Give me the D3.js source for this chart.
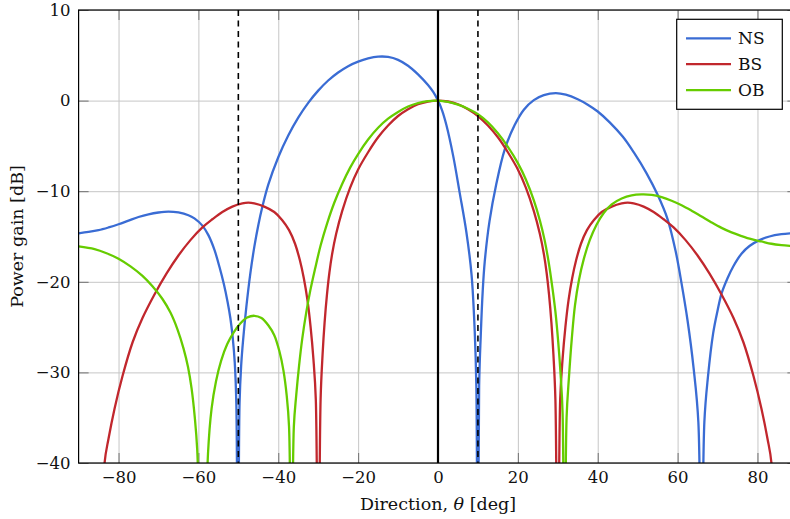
<!DOCTYPE html>
<html><head><meta charset="utf-8">
<script src="https://cdn.jsdelivr.net/npm/d3@7"></script>
<style>body{margin:0;background:#fff}svg{display:block}</style>
</head><body>
<svg id="chart" width="790" height="519"></svg>
<script>
// ---------- data ----------
const seriesNames = ["NS", "BS", "OB"];
const seriesColors = ["#3a6cd4", "#c1272d", "#66cc00"];

const nsTheta = [-90,-87.5,-85,-82.5,-80,-77.5,-75,-72.5,-70,-67.5,-65,-62.5,-61,-59,-57.5,-56,-54.7,-53.6,-52.7,-52,-51.4,-50.9,-50.5,-50.1,-49.7,-49.3,-48.8,-48,-47,-46,-45,-44,-42.5,-40,-37.5,-35,-32.5,-30,-27.5,-25,-22.5,-20,-17.5,-15,-12.5,-10,-7.5,-5,-2.5,-1.2,0,1,2.1,3.8,5.4,7.1,8.4,9.2,9.6,9.95,10.3,10.7,11.2,11.7,12.9,14.6,16.7,19.2,21.5,24,26.5,29.5,32,35,37.5,40,43,46.3,49,52.2,55,57.5,59.5,61,62.5,64,65.2,65.95,66.7,67.6,68.9,70,71,72.5,74,76,78,80.5,83,86,90];
const nsGain  = [-14.65,-14.5,-14.3,-14.0,-13.65,-13.25,-12.85,-12.55,-12.35,-12.25,-12.35,-12.65,-13.0,-13.8,-14.85,-16.45,-18.4,-20.3,-22.2,-24.0,-26.2,-28.9,-33.5,-60,-33.5,-29.3,-26.4,-22.8,-19.1,-16.15,-13.75,-11.75,-9.28,-6.25,-3.85,-1.88,-0.25,1.1,2.22,3.1,3.8,4.3,4.65,4.85,4.82,4.5,3.85,2.9,1.72,0.95,0,-1.05,-2.7,-6.1,-10.1,-14.5,-19.2,-25.5,-31.5,-60,-31.5,-26.0,-21.0,-17.8,-13.3,-9.2,-5.4,-2.7,-1.0,0.05,0.6,0.82,0.65,0.15,-0.45,-1.2,-2.4,-4.0,-5.7,-8.0,-10.4,-13.1,-16.6,-20.2,-24.3,-29.5,-35.5,-60,-35.5,-30.5,-25.7,-23.2,-21.3,-19.6,-18.25,-16.9,-16.05,-15.4,-15.0,-14.75,-14.6];

const bsTheta = [-90,-84.6,-83.5,-82.5,-81,-79,-76.5,-74,-71,-68,-65,-62,-59,-56.5,-54,-51.5,-49,-47.5,-46,-43.5,-41,-39,-37.3,-35.8,-34.6,-33.6,-32.7,-31.9,-31.2,-30.6,-30,-29.4,-28.9,-28.4,-27.8,-27.2,-26.5,-25.5,-24,-22,-20,-17.5,-15,-12.5,-10,-7.5,-5,-2.5,0,2.5,5,7.5,10,12.5,15,17.5,20,22,24,25.5,26.5,27.2,27.8,28.4,28.9,29.4,30,30.6,31.2,31.9,32.7,33.6,34.6,35.8,37.3,39,41,43.5,46,47.5,49,51.5,54,56.5,59,62,65,68,71,74,76.5,79,81,82.5,83.5,84.6,90];
const bsGain  = [-52,-60,-40,-37.3,-34.0,-30.4,-26.7,-24.0,-21.4,-19.1,-17.1,-15.4,-14.0,-13.1,-12.3,-11.7,-11.35,-11.27,-11.35,-11.7,-12.3,-13.2,-14.3,-15.8,-17.6,-19.6,-22,-25,-28.5,-33,-60,-33,-28.0,-24.5,-21.4,-19.0,-16.9,-14.7,-12.2,-9.6,-7.6,-5.7,-4.05,-2.75,-1.7,-0.95,-0.4,-0.1,0,-0.1,-0.4,-0.95,-1.7,-2.75,-4.05,-5.7,-7.6,-9.6,-12.2,-14.7,-16.9,-19.0,-21.4,-24.5,-28.0,-33,-60,-33,-28.5,-25,-22,-19.6,-17.6,-15.8,-14.3,-13.2,-12.3,-11.7,-11.35,-11.27,-11.35,-11.7,-12.3,-13.1,-14.0,-15.4,-17.1,-19.1,-21.4,-24.0,-26.7,-30.4,-34.0,-37.3,-40,-60,-52];

const obTheta = [-90,-86,-83,-80,-77,-74,-71.5,-69,-67,-65.2,-63.7,-62.6,-61.7,-60.9,-60.3,-58.8,-57.6,-56.7,-55.6,-54.3,-52.8,-51.2,-49.5,-47.8,-46,-44.2,-42.5,-41,-39.7,-38.7,-37.9,-37.3,-36.7,-36.1,-35.5,-34.8,-34.0,-33.0,-32.0,-30.8,-29.4,-27.8,-26,-24,-22,-20,-17.5,-15,-12.5,-10,-7.5,-5,-2.5,0,2.5,5,7.5,10,12.5,15,17.5,20,22,24,25.5,26.7,27.7,28.6,29.4,30.1,30.7,31.2,31.65,32.2,32.8,33.5,34.3,35.3,36.5,38,39.7,41.5,43.5,46,48.5,51,53.5,56,58.5,61,63.5,66,68.5,71,73.5,76,78.5,81,83.5,86,88.5,90];
const obGain  = [-16.1,-16.4,-16.85,-17.45,-18.3,-19.35,-20.5,-21.9,-23.4,-25.3,-27.4,-29.4,-31.8,-35,-38.5,-60,-39,-34.0,-31.0,-28.7,-26.9,-25.6,-24.6,-23.95,-23.75,-24.0,-24.8,-25.9,-27.7,-29.8,-32.5,-36,-60,-36,-32.5,-29.3,-26.3,-23.4,-21.0,-18.6,-16.0,-13.6,-11.3,-9.2,-7.4,-5.9,-4.3,-3.0,-2.0,-1.25,-0.65,-0.27,-0.05,0,-0.15,-0.45,-0.9,-1.5,-2.4,-3.6,-5.1,-6.9,-8.7,-11.0,-13.2,-15.4,-17.8,-20.5,-23.3,-26.6,-30.2,-34.5,-60,-35,-30.5,-26.3,-22.6,-19.8,-17.5,-15.4,-13.7,-12.4,-11.45,-10.8,-10.45,-10.35,-10.4,-10.65,-11.05,-11.55,-12.15,-12.8,-13.45,-14.05,-14.55,-14.95,-15.3,-15.55,-15.8,-15.95,-16.05,-16.1];

const xTicks = [-80, -60, -40, -20, 0, 20, 40, 60, 80];
const yTicks = [-40, -30, -20, -10, 0, 10];
const dashedMarks = [-50, 10];
const solidMark = 0;
const xLabel = "Direction, ";
const yLabel = "Power gain [dB]";

// ---------- layout ----------
const L = 78.6, R = 797.4, T = 10, B = 463;
const FONT = "'DejaVu Serif', serif";
const svg = d3.select("#chart");
const x = d3.scaleLinear().domain([-90, 90]).range([L, R]);
const y = d3.scaleLinear().domain([-40, 10]).range([B, T]);

// grid
svg.append("g").attr("transform", `translate(0,${B})`)
  .call(d3.axisBottom(x).tickValues(xTicks).tickSize(-(B - T)).tickFormat(""))
  .call(g => { g.select(".domain").remove(); g.selectAll("line").attr("stroke", "#c6c6c6").attr("stroke-width", 1); });
svg.append("g").attr("transform", `translate(${L},0)`)
  .call(d3.axisLeft(y).tickValues(yTicks).tickSize(-(R - L)).tickFormat(""))
  .call(g => { g.select(".domain").remove(); g.selectAll("line").attr("stroke", "#c6c6c6").attr("stroke-width", 1); });

// inward ticks on all sides
function styleTicks(g) {
  g.select(".domain").remove();
  g.selectAll("line").attr("stroke", "#666").attr("stroke-width", 0.9);
  g.selectAll("text").attr("font-family", FONT).attr("font-size", 16.5).attr("fill", "#111");
}
svg.append("g").attr("transform", `translate(0,${B})`)
  .call(d3.axisBottom(x).tickValues(xTicks).tickSize(-10).tickPadding(8.5)).call(styleTicks);
svg.append("g").attr("transform", `translate(0,${T})`)
  .call(d3.axisTop(x).tickValues(xTicks).tickSize(-10).tickFormat("")).call(styleTicks);
svg.append("g").attr("transform", `translate(${L},0)`)
  .call(d3.axisLeft(y).tickValues(yTicks).tickSize(-10).tickPadding(8)).call(styleTicks);
svg.append("g").attr("transform", `translate(${R},0)`)
  .call(d3.axisRight(y).tickValues(yTicks).tickSize(-10).tickFormat("")).call(styleTicks);

// clip
svg.append("clipPath").attr("id", "plotclip").append("rect")
  .attr("x", L).attr("y", T).attr("width", R - L).attr("height", B - T);

const series = [
  { name: seriesNames[0], color: seriesColors[0], th: nsTheta, g: nsGain },
  { name: seriesNames[1], color: seriesColors[1], th: bsTheta, g: bsGain },
  { name: seriesNames[2], color: seriesColors[2], th: obTheta, g: obGain }
];
const line = d3.line().x(d => x(d[0])).y(d => y(d[1])).curve(d3.curveCatmullRom.alpha(0.5));
const plot = svg.append("g").attr("clip-path", "url(#plotclip)");
series.forEach(s => {
  plot.append("path").datum(s.th.map((t, i) => [t, s.g[i]]))
    .attr("d", line).attr("fill", "none").attr("stroke", s.color)
    .attr("stroke-width", 2.3).attr("stroke-linejoin", "round");
});

// vertical markers
dashedMarks.forEach(v => {
  plot.append("line").attr("x1", x(v)).attr("x2", x(v)).attr("y1", T).attr("y2", B)
    .attr("stroke", "#000").attr("stroke-width", 1.6).attr("stroke-dasharray", "6,4.5");
});
plot.append("line").attr("x1", x(solidMark)).attr("x2", x(solidMark)).attr("y1", T).attr("y2", B)
  .attr("stroke", "#000").attr("stroke-width", 2.2);

// frame
svg.append("rect").attr("x", L).attr("y", T).attr("width", R - L).attr("height", B - T)
  .attr("fill", "none").attr("stroke", "#000").attr("stroke-width", 1.2);

// axis labels
const xl = svg.append("text").attr("x", x(0)).attr("y", 510).attr("text-anchor", "middle")
  .attr("font-family", FONT).attr("font-size", 17.5).attr("fill", "#111");
xl.append("tspan").text(xLabel);
xl.append("tspan").attr("font-style", "italic").text("θ");
xl.append("tspan").text(" [deg]");
svg.append("text").attr("transform", `translate(23,${(T + B) / 2}) rotate(-90)`)
  .attr("text-anchor", "middle").attr("font-family", FONT).attr("font-size", 17.5).attr("fill", "#111")
  .text(yLabel);

// legend
const lg = svg.append("g");
lg.append("rect").attr("x", 676.7).attr("y", 19.3).attr("width", 105.6).attr("height", 90)
  .attr("fill", "#fff").attr("stroke", "#000").attr("stroke-width", 1.2);
series.forEach((s, i) => {
  const yy = 38.3 + i * 25.9;
  lg.append("line").attr("x1", 686).attr("x2", 731).attr("y1", yy).attr("y2", yy)
    .attr("stroke", s.color).attr("stroke-width", 2.3);
  lg.append("text").attr("x", 738).attr("y", yy + 6).attr("font-family", FONT).attr("font-size", 17)
    .attr("fill", "#111").text(s.name);
});
</script>
</body></html>
